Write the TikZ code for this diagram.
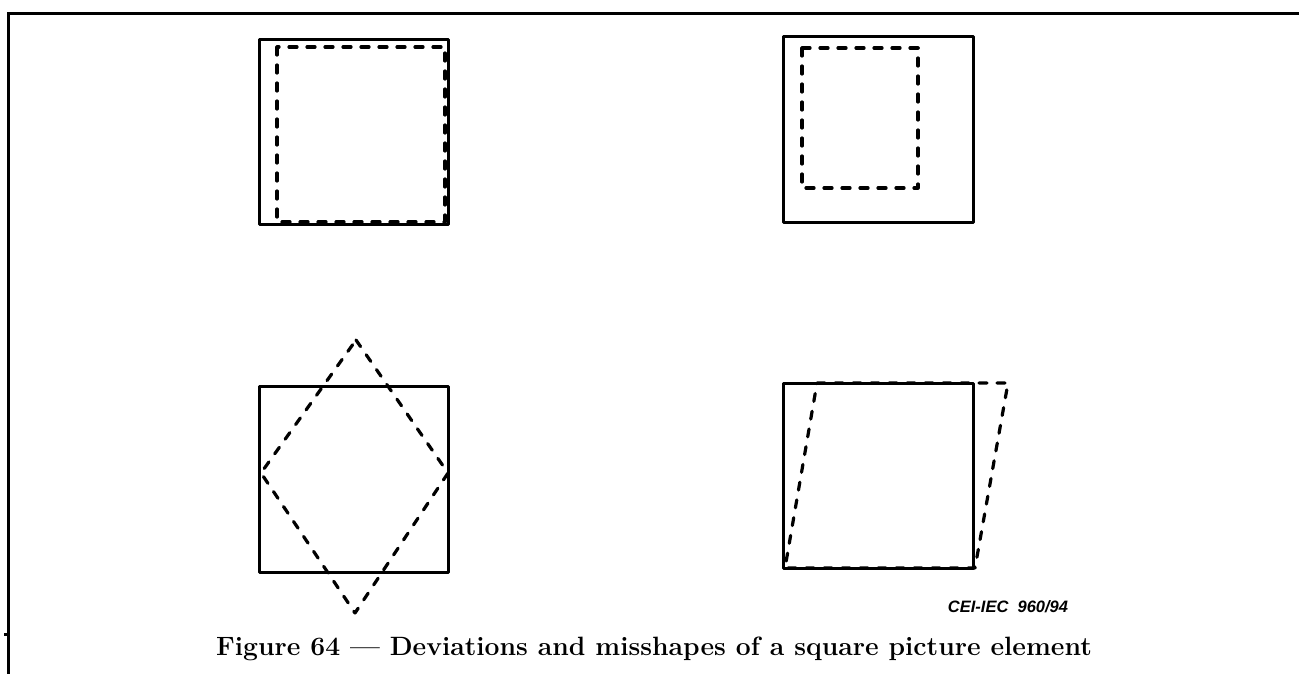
\documentclass[tikz,border=0pt]{standalone}
\usepackage{fontspec}
\newfontfamily\ceifont{Liberation Sans}
\usetikzlibrary{positioning, calc}

\begin{document}
\begin{tikzpicture}[x=1pt, y=-1pt,
    frameline/.style={line width=3pt},
    outline/.style={line width=3pt, line join=round},
    deviation/.style={line width=3.2pt, dash pattern=on 8pt off 10pt, line cap=round, line join=round}]
        \useasboundingbox (0,0) rectangle (1299,674);

        \draw[frameline] (8,674) -- (8,14) -- (1299,14);
        \draw[frameline] (4,634) -- (8,634);

        % shifted
        \draw[outline] (259,40) rectangle (448,224);
        \draw[deviation] (277,47) rectangle (445,222);

        % shrunk
        \draw[outline] (783,37) rectangle (973,222);
        \draw[deviation] (802,48) rectangle (918,188);

        % rotated
        \draw[outline] (259,386) rectangle (448,572);
        \draw[deviation] (356,340) -- (448,473) -- (355,613) -- (261,473) -- cycle;

        % skewed
        \draw[outline] (783,383) rectangle (973,568);
        \draw[deviation] (817,383) -- (1008,383) -- (975,568) -- (785,568) -- cycle;

        \node (cei) at (1008,607) {\ceifont\fontsize{16.5}{18}\selectfont\bfseries\itshape CEI-IEC\ \ 960/94};
        \node (caption) at (654,649) {\fontsize{26.5}{30}\selectfont\bfseries Figure 64 --- Deviations and misshapes of a square picture element};
\end{tikzpicture}
\end{document}
